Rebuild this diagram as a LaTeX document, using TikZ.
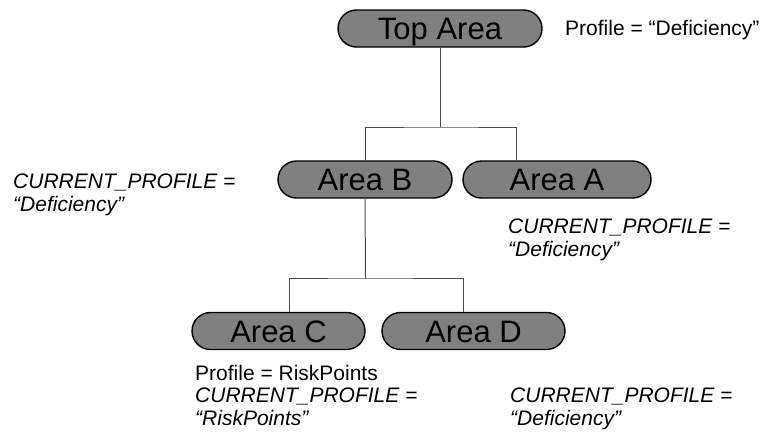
\documentclass[tikz,border=0pt]{standalone}
\usepackage{fontspec}
\setmainfont{Liberation Sans}
\usetikzlibrary{shapes.misc}
\begin{document}
\begin{tikzpicture}[x=1pt,y=-1pt,
  area/.style={rounded rectangle, draw=black, line width=1.4pt, fill=black!50,
    minimum height=37pt, inner sep=0pt, text height=22pt, text depth=0pt,
    font=\fontsize{31}{34}\selectfont},
  conn/.style={draw=black!70, line width=1pt},
  lbl/.style={anchor=base west, align=left, inner sep=0pt,
    font=\fontsize{21}{22.5}\selectfont}]
\useasboundingbox (0,0) rectangle (762,432);
\node[area, minimum width=204pt] (top) at (440,28.5) {Top Area};
\node[area, minimum width=174pt] (B) at (365,179.5) {Area B};
\node[area, minimum width=188pt] (A) at (557,179.5) {Area A};
\node[area, minimum width=173pt] (C) at (278.5,331) {Area C};
\node[area, minimum width=183pt] (D) at (473.5,331) {Area D};
\coordinate (j1) at (441,127);
\coordinate (j2) at (365.5,278);
\path (A.north) ++(-41,0) coordinate (ain);
\path (C.north) ++(10.5,0) coordinate (cin);
\path (D.north) ++(-10.5,0) coordinate (din);
\draw[conn] (top.south) -- (top.south |- j1);
\draw[conn] (B.north) |- (j1) -| (ain);
\draw[conn] (B.south) -- (j2);
\draw[conn] (cin) |- (j2) -| (din);
\node[lbl] (ptop) at (565,35) {Profile = “Deficiency”};
\node[lbl] (lb) at (13,211) {\textit{CURRENT\_PROFILE =}\\\textit{“Deficiency”}};
\node[lbl] (la) at (508,256) {\textit{CURRENT\_PROFILE =}\\\textit{“Deficiency”}};
\node[lbl] (lc) at (195,425) {Profile = RiskPoints\\\textit{CURRENT\_PROFILE =}\\\textit{“RiskPoints”}};
\node[lbl] (ld) at (510,425) {\textit{CURRENT\_PROFILE =}\\\textit{“Deficiency”}};
\end{tikzpicture}
\end{document}
